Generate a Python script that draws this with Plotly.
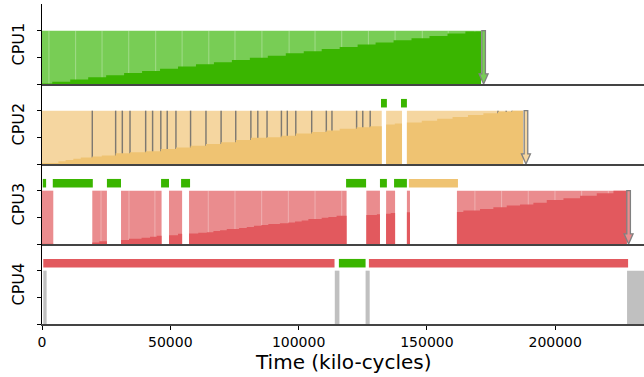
import plotly.graph_objects as go
from plotly.subplots import make_subplots

# ---------------- data (kilo-cycles) ----------------
cpu_names = ["CPU1", "CPU2", "CPU3", "CPU4"]
x_ticks = [0, 50000, 100000, 150000, 200000]
x_tick_labels = ["0", "50000", "100000", "150000", "200000"]
x_max = 234600

# task colours (task1 green, task2 orange, task3 red)
task_light = ["#78cd55", "#f5d6a0", "#ea8c8e"]
task_dark = ["#3ab500", "#efc372", "#e2595e"]
idle_color = "#c0c0c0"

# CPU1: run boundaries and progress (dark) heights
cpu1_runs_x = [[0, 4000, 11000, 18000, 25000, 32000, 39000, 46000, 53000, 60000, 67000,
                74000, 81000, 88000, 95000, 102000, 109000, 116000, 123000, 130000,
                137000, 144000, 151000, 158000, 165000, 171100]]
cpu1_runs_h = [[0.01, 0.04, 0.085, 0.125, 0.165, 0.205, 0.245, 0.285, 0.33, 0.37, 0.41,
                0.45, 0.49, 0.53, 0.575, 0.615, 0.655, 0.695, 0.74, 0.78, 0.82, 0.86,
                0.90, 0.945, 0.985]]
cpu1_slices = [2700, 13100, 23400, 33800, 44300, 54600, 65000, 75200, 85700, 96300,
               106400, 116800, 127200, 137600, 148200, 158300, 168700]

# CPU2
cpu2_runs_x = [[0, 6400, 9200, 12200, 15100, 19600, 23300, 28700, 34300, 40400, 46300,
                52200, 57900, 63900, 69800, 75500, 81400, 87700, 93300, 98900, 105100,
                110800, 116000, 122600, 127900, 132400],
               [134100, 137500, 140300],
               [142200, 148000, 154000, 160000, 166000, 172000, 177700, 183200, 187500]]
cpu2_runs_h = [[0.02, 0.05, 0.075, 0.10, 0.12, 0.14, 0.16, 0.20, 0.22, 0.24, 0.28, 0.31,
                0.34, 0.375, 0.41, 0.45, 0.49, 0.50, 0.53, 0.57, 0.60, 0.63, 0.66, 0.69,
                0.71],
               [0.74, 0.76],
               [0.78, 0.81, 0.85, 0.88, 0.92, 0.95, 0.98, 1.0]]
cpu2_switches = [19600, 28700, 31300, 34300, 40400, 43100, 46300, 48800, 52200, 57900,
                 63900, 69800, 75500, 81400, 84100, 87700, 93300, 95600, 98900, 105100,
                 110800, 113000, 122600, 125000, 127900, 177700, 180900, 183200]

# CPU3
cpu3_runs_x = [[0, 4400],
               [19600, 22300, 25300],
               [30800, 33900, 38800, 42100, 44700, 46600],
               [49500, 53000, 54600],
               [57300, 60900, 64200, 66800, 69400, 72000, 76800, 79800, 82600, 85500,
                88200, 92700, 96000, 98600, 101200, 103800, 109000, 111600, 114800, 118700],
               [126400, 130500, 131700],
               [134100, 135900, 137600],
               [142200, 143400],
               [161700, 164200, 170700, 175900, 181100, 186300, 191500, 196700, 203200,
                209700, 216200, 222700, 227900]]
cpu3_runs_h = [[0.004],
               [0.03, 0.05],
               [0.075, 0.10, 0.115, 0.135, 0.155],
               [0.165, 0.19],
               [0.195, 0.21, 0.22, 0.245, 0.26, 0.28, 0.30, 0.32, 0.34, 0.355, 0.375,
                0.39, 0.405, 0.42, 0.44, 0.47, 0.49, 0.505, 0.53],
               [0.545, 0.56],
               [0.565, 0.58],
               [0.595],
               [0.60, 0.63, 0.655, 0.69, 0.72, 0.74, 0.775, 0.825, 0.86, 0.905, 0.95, 1.0]]
cpu3_slices = [23000, 33900, 44000, 64800, 75200, 85600, 96000, 106400, 116800, 168700,
               179100, 189500, 199900, 210300, 220700]

# CPU4 idle periods
cpu4_idle_start = [500, 114100, 126100, 228000]
cpu4_idle_end = [1800, 115900, 127700, 234600]

# markers above rows: other task occupying the CPU
cpu2_mark_start = [132100, 139900]
cpu2_mark_end = [134400, 142200]
cpu2_mark_task = [0, 0]
cpu3_mark_start = [300, 4200, 25300, 46400, 54200, 118500, 131700, 137200, 143000]
cpu3_mark_end = [1600, 19800, 30800, 49500, 57700, 126300, 134400, 142200, 162100]
cpu3_mark_task = [0, 0, 0, 0, 0, 0, 0, 0, 1]
cpu4_mark_start = [500, 115700, 127400]
cpu4_mark_end = [114000, 126100, 228400]
cpu4_mark_task = [2, 0, 2]

# task completion times (arrows)
task_end = [172100, 188600, 228600]

# ---------------- figure ----------------
fig = make_subplots(rows=4, cols=1, shared_xaxes=True, vertical_spacing=0)

FONT = "DejaVu Sans"
MARK_BASE, MARK_H = 1.06, 0.16


def add_runs(row, runs_x, light):
    cx = [(r[0] + r[-1]) / 2 for r in runs_x]
    w = [r[-1] - r[0] for r in runs_x]
    fig.add_trace(go.Bar(x=cx, y=[1] * len(cx), width=w, base=0,
                         marker=dict(color=light, line=dict(width=0)),
                         hoverinfo="skip"), row=row, col=1)


def add_dark(row, runs_x, runs_h, dark):
    px, py = [], []
    for xs, hs in zip(runs_x, runs_h):
        px.append(xs[0]); py.append(0)
        for i, h in enumerate(hs):
            px += [xs[i], xs[i + 1]]
            py += [h, h]
        px.append(xs[-1]); py.append(0)
        px.append(xs[0]); py.append(0)
        px.append(None); py.append(None)
    fig.add_trace(go.Scatter(x=px, y=py, mode="lines", fill="toself",
                             fillcolor=dark, line=dict(width=0, color=dark),
                             hoverinfo="skip"), row=row, col=1)


def add_lines(row, xs, color, width):
    fig.add_trace(go.Bar(x=xs, y=[1] * len(xs), width=[width] * len(xs), base=0,
                         marker=dict(color=color, line=dict(width=0)),
                         hoverinfo="skip"), row=row, col=1)


def add_marks(row, starts, ends, tasks):
    cx = [(s + e) / 2 for s, e in zip(starts, ends)]
    w = [e - s for s, e in zip(starts, ends)]
    cols = [task_dark[t] for t in tasks]
    fig.add_trace(go.Bar(x=cx, y=[MARK_H] * len(cx), width=w, base=MARK_BASE,
                         marker=dict(color=cols, line=dict(width=0)),
                         hoverinfo="skip"), row=row, col=1)


# CPU1
add_runs(1, cpu1_runs_x, task_light[0])
add_lines(1, cpu1_slices, "rgba(255,255,255,0.3)", 400)
add_dark(1, cpu1_runs_x, cpu1_runs_h, task_dark[0])

# CPU2
add_runs(2, cpu2_runs_x, task_light[1])
add_dark(2, cpu2_runs_x, cpu2_runs_h, task_dark[1])
add_lines(2, cpu2_switches, "rgba(105,105,105,0.85)", 560)
add_marks(2, cpu2_mark_start, cpu2_mark_end, cpu2_mark_task)

# CPU3
add_runs(3, cpu3_runs_x, task_light[2])
add_lines(3, cpu3_slices, "rgba(255,255,255,0.3)", 400)
add_dark(3, cpu3_runs_x, cpu3_runs_h, task_dark[2])
add_marks(3, cpu3_mark_start, cpu3_mark_end, cpu3_mark_task)

# CPU4
idle_cx = [(s + e) / 2 for s, e in zip(cpu4_idle_start, cpu4_idle_end)]
idle_w = [e - s for s, e in zip(cpu4_idle_start, cpu4_idle_end)]
fig.add_trace(go.Bar(x=idle_cx, y=[1] * len(idle_cx), width=idle_w, base=0,
                     marker=dict(color=idle_color, line=dict(width=0)),
                     hoverinfo="skip"), row=4, col=1)
add_marks(4, cpu4_mark_start, cpu4_mark_end, cpu4_mark_task)

# completion arrows
shaft_hw, head_hw, head_len = 700, 1750, 0.19
for i, xe in enumerate(task_end):
    ax = "x" if i == 0 else f"x{i + 1}"
    ay = "y" if i == 0 else f"y{i + 1}"
    path = (f"M {xe - shaft_hw},1 L {xe + shaft_hw},1 L {xe + shaft_hw},{head_len} "
            f"L {xe + head_hw},{head_len} L {xe},0 L {xe - head_hw},{head_len} "
            f"L {xe - shaft_hw},{head_len} Z")
    fig.add_shape(type="path", path=path, xref=ax, yref=ay,
                  fillcolor=task_light[i], line=dict(color="#808080", width=1.3))

# axes
for r in range(1, 5):
    fig.update_yaxes(range=[0, 1.5], tickvals=[0, 0.5, 1], showticklabels=False,
                     ticks="outside", ticklen=4, tickcolor="black", tickwidth=1,
                     showline=True, linecolor="black", linewidth=1,
                     showgrid=False, zeroline=False, fixedrange=True, row=r, col=1)
    fig.update_xaxes(range=[0, x_max], showline=True, linecolor="#444444", linewidth=2,
                     showgrid=False, zeroline=False, ticks="", row=r, col=1)
    fig.add_annotation(text=cpu_names[r - 1], textangle=-90, xref="paper", x=0,
                       xanchor="center", xshift=-24.5,
                       yref=("y" if r == 1 else f"y{r}"), y=0.75, yanchor="middle",
                       showarrow=False, font=dict(family=FONT, size=16, color="black"))

fig.update_xaxes(ticks="outside", ticklen=4, tickcolor="black", tickwidth=1,
                 tickvals=x_ticks, ticktext=x_tick_labels, showticklabels=True,
                 tickfont=dict(family=FONT, size=14, color="black"), row=4, col=1)

fig.add_annotation(text="Time (kilo-cycles)", xref="paper", x=0.5, yref="paper", y=0,
                   yanchor="middle", yshift=-38, showarrow=False,
                   font=dict(family=FONT, size=20, color="black"))

fig.update_layout(width=644, height=377, margin=dict(l=42, r=0, t=4, b=53),
                  barmode="overlay", showlegend=False,
                  plot_bgcolor="white", paper_bgcolor="white",
                  font=dict(family=FONT, color="black"))

fig.write_html("out.html", config={"displayModeBar": False},
               post_script="document.body.style.margin='0';"
                           "document.body.style.overflow='hidden';")
